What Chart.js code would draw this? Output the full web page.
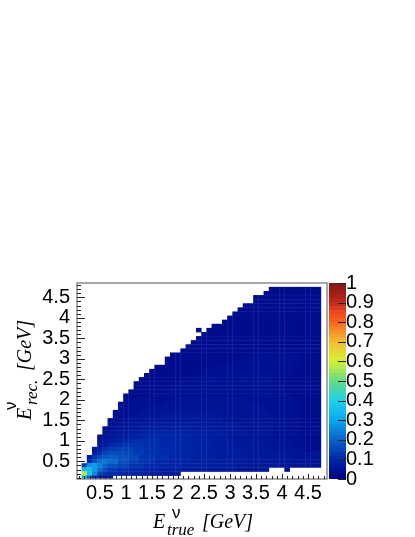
<!DOCTYPE html>
<html>
<head>
<meta charset="utf-8">
<title>E rec vs E true</title>
<script src="https://cdn.jsdelivr.net/npm/chart.js@4"></script>
<style>
  body { margin: 0; background: #fff; }
  canvas { position: absolute; top: 0; }
  #migration { left: 0; }
  #palette { left: 320px; }
</style>
</head>
<body>
<canvas id="migration" width="415" height="537"></canvas>
<canvas id="palette" width="95" height="537"></canvas>
<script>
// bins are 0.1 GeV wide on both axes
const xEdgeStart = 0.15;
const yEdgeStart = 0.05;
const binSize = 0.1;

const xTickValues = [0.5, 1, 1.5, 2, 2.5, 3, 3.5, 4, 4.5];
const yTickValues = [0.5, 1, 1.5, 2, 2.5, 3, 3.5, 4, 4.5];
const zTickValues = [0, 0.1, 0.2, 0.3, 0.4, 0.5, 0.6, 0.7, 0.8, 0.9, 1];

// bin content in hundredths, top row first, written as count,value pairs. 0 = empty bin
const binRows = [
  [36,0, 10,3],
  [35,0, 11,3],
  [33,0, 13,3],
  [33,0, 13,3],
  [31,0, 15,3],
  [30,0, 16,3],
  [29,0, 17,3],
  [28,0, 18,3],
  [27,0, 19,3],
  [25,0, 21,3],
  [22,0, 1,3, 1,0, 22,3],
  [23,0, 23,3],
  [22,0, 24,3],
  [21,0, 25,3],
  [20,0, 26,3],
  [19,0, 17,3, 6,4, 4,3],
  [17,0, 16,3, 9,4, 4,3],
  [16,0, 14,3, 12,4, 4,3],
  [16,0, 12,3, 14,4, 4,3],
  [14,0, 11,3, 16,4, 5,3],
  [13,0, 10,3, 18,4, 5,3],
  [12,0, 10,3, 18,4, 6,3],
  [11,0, 8,3, 20,4, 7,3],
  [10,0, 8,3, 21,4, 7,3],
  [10,0, 7,3, 22,4, 7,3],
  [9,0, 7,3, 23,4, 7,3],
  [8,0, 6,3, 26,4, 6,3],
  [8,0, 10,4, 14,5, 10,4, 4,3],
  [7,0, 9,4, 18,5, 8,4, 4,3],
  [7,0, 6,4, 22,5, 7,4, 4,3],
  [6,0, 5,4, 25,5, 6,4, 4,3],
  [6,0, 4,4, 5,5, 12,6, 10,5, 5,4, 4,3],
  [5,0, 3,4, 5,5, 14,6, 10,5, 5,4, 4,3],
  [5,0, 2,4, 3,5, 4,6, 9,7, 8,6, 6,5, 5,4, 4,3],
  [4,0, 2,4, 2,5, 3,6, 3,7, 7,8, 4,7, 5,6, 7,5, 5,4, 4,3],
  [4,0, 1,4, 2,5, 2,6, 2,7, 3,8, 6,9, 4,8, 4,7, 4,6, 5,5, 5,4, 4,3],
  [3,0, 1,4, 1,5, 2,6, 2,7, 2,8, 2,9, 5,10, 3,9, 3,8, 4,7, 4,6, 5,5, 5,4, 4,3],
  [3,0, 1,5, 1,6, 1,7, 2,8, 2,10, 5,11, 4,10, 3,9, 3,8, 4,7, 5,6, 6,5, 3,4, 3,3],
  [3,0, 1,6, 1,7, 1,9, 2,11, 4,12, 3,11, 3,10, 3,9, 4,8, 5,7, 5,6, 6,5, 2,4, 3,3],
  [2,0, 1,6, 1,8, 1,11, 2,13, 3,14, 3,12, 3,11, 3,10, 3,9, 4,8, 5,7, 6,6, 6,5, 3,3],
  [2,0, 1,7, 1,11, 1,14, 1,16, 2,16, 2,15, 2,13, 3,11, 3,10, 4,9, 4,8, 6,7, 7,6, 7,5],
  [1,0, 1,7, 1,12, 1,16, 1,18, 2,19, 2,17, 2,15, 3,12, 3,11, 4,9, 5,8, 6,7, 8,6, 6,5],
  [1,0, 1,10, 1,17, 1,21, 1,23, 2,21, 2,17, 2,14, 3,12, 3,10, 4,9, 5,8, 6,7, 8,6, 6,5],
  [1,12, 1,27, 1,28, 1,24, 1,20, 2,17, 2,14, 3,12, 3,10, 4,9, 5,8, 6,7, 8,6, 8,5],
  [1,34, 1,35, 1,28, 1,21, 1,16, 2,13, 2,11, 3,10, 3,9, 4,8, 5,7, 6,6, 6,5, 3,0, 1,4, 6,0],
  [1,58, 1,36, 1,25, 1,15, 1,12, 2,10, 3,9, 3,8, 3,7, 3,6, 27,0],
  [1,31, 1,20, 1,10, 1,7, 2,6, 40,0]
];

// palette
const paletteZ = [0, 0.1, 0.2, 0.3, 0.4, 0.5, 0.6, 0.7, 0.8, 0.85, 0.9, 1];
const paletteRgb = [
  [0, 0, 130], [0, 40, 170], [10, 100, 200], [10, 170, 240], [30, 210, 230], [100, 220, 130],
  [215, 240, 50], [240, 190, 50], [250, 100, 30], [240, 70, 30], [190, 40, 30], [130, 20, 20]
];

function zColor(z) {
  let i = 0;
  while (i < paletteZ.length - 2 && z > paletteZ[i + 1]) i++;
  const f = (z - paletteZ[i]) / (paletteZ[i + 1] - paletteZ[i]);
  const c = paletteRgb[i].map((v, k) => Math.round(v + (paletteRgb[i + 1][k] - v) * f));
  return `rgb(${c[0]},${c[1]},${c[2]})`;
}

function buildCells() {
  const cells = [];
  binRows.forEach((row, r) => {
    const lo = yEdgeStart + binSize * (binRows.length - 1 - r);
    let col = 0;
    for (let i = 0; i < row.length; i += 2) {
      for (let n = 0; n < row[i]; n++, col++) {
        if (row[i + 1] === 0) continue;
        cells.push({ x: xEdgeStart + binSize * (col + 0.5), y: [lo, lo + binSize], z: row[i + 1] / 100 });
      }
    }
  });
  return cells;
}

const labelFont = { family: 'Liberation Sans', size: 20 };
const frameColor = '#8a8a8a';
const tickColor = '#222';

// ROOT style frame with ticks pointing into the plot
const frameTicks = {
  id: 'frameTicks',
  afterDatasetsDraw(chart) {
    const { ctx, chartArea: a, scales } = chart;
    ctx.save();
    ctx.strokeStyle = frameColor;
    ctx.lineWidth = 1.5;
    ctx.strokeRect(a.left, a.top, a.right - a.left, a.bottom - a.top);
    ctx.strokeStyle = tickColor;
    ctx.lineWidth = 1;
    for (let t = 1; t < 49; t++) {
      const v = t / 10;
      const major = t % 5 === 0;
      const px = Math.round(scales.x.getPixelForValue(v)) + 0.5;
      if (v >= scales.x.min && v <= scales.x.max) {
        ctx.beginPath();
        ctx.moveTo(px, a.bottom);
        ctx.lineTo(px, a.bottom - (major ? 5 : 3));
        ctx.stroke();
      }
      const py = Math.round(scales.y.getPixelForValue(v)) + 0.5;
      if (v >= scales.y.min && v <= scales.y.max) {
        ctx.beginPath();
        ctx.moveTo(a.left, py);
        ctx.lineTo(a.left + (major ? 8 : 4), py);
        ctx.stroke();
      }
    }
    ctx.restore();
  }
};

// axis titles have sub and superscripts, so they are set piece by piece
const xTitleParts = [
  { text: 'E', font: 'italic 20px "Liberation Serif"', dx: 0, dy: 0 },
  { text: 'ν', font: '17px "Liberation Sans"', dx: 19, dy: -10 },
  { text: 'true', font: 'italic 17px "Liberation Serif"', dx: 14, dy: 7 },
  { text: '[GeV]', font: 'italic 20px "Liberation Serif"', dx: 49, dy: 0 }
];
const yTitleParts = [
  { text: 'E', font: 'italic 20px "Liberation Serif"', dx: 0, dy: 0 },
  { text: 'ν', font: '17px "Liberation Sans"', dx: 10, dy: -15 },
  { text: 'rec.', font: 'italic 17px "Liberation Serif"', dx: 15, dy: 6 },
  { text: '[GeV]', font: 'italic 20px "Liberation Serif"', dx: 49, dy: 0 }
];

const axisTitles = {
  id: 'axisTitles',
  afterDraw(chart) {
    const { ctx } = chart;
    const put = (parts, x, y, angle) => {
      ctx.save();
      ctx.translate(x, y);
      ctx.rotate(angle);
      ctx.fillStyle = '#000';
      ctx.textBaseline = 'alphabetic';
      parts.forEach((p) => {
        ctx.font = p.font;
        ctx.fillText(p.text, p.dx, p.dy);
      });
      ctx.restore();
    };
    put(xTitleParts, 153, 528, 0);
    put(yTitleParts, 31, 420, -Math.PI / 2);
  }
};

new Chart(document.getElementById('migration'), {
  type: 'bar',
  data: {
    datasets: [{
      data: buildCells(),
      backgroundColor: (c) => zColor(c.raw.z),
      barPercentage: 1,
      categoryPercentage: 1,
      inflateAmount: 0.2
    }]
  },
  options: {
    responsive: false,
    animation: false,
    layout: { padding: { left: 0, right: 88, top: 283, bottom: 0 } },
    plugins: { legend: { display: false }, tooltip: { enabled: false } },
    scales: {
      x: {
        type: 'linear',
        offset: false,
        min: 0.058,
        max: 4.866,
        grid: { display: false, drawTicks: false },
        border: { display: false },
        ticks: { color: '#000', font: labelFont, padding: 2, maxRotation: 0, autoSkip: false, callback: (v) => String(v) },
        afterBuildTicks: (s) => { s.ticks = xTickValues.map((value) => ({ value })); },
        afterFit: (s) => { s.height = 58; }
      },
      y: {
        min: 0.07,
        max: 4.849,
        grid: { display: false, drawTicks: false },
        border: { display: false },
        ticks: { color: '#000', font: labelFont, padding: 7, autoSkip: false, callback: (v) => String(v) },
        afterBuildTicks: (s) => { s.ticks = yTickValues.map((value) => ({ value })); },
        afterFit: (s) => { s.width = 77; }
      }
    }
  },
  plugins: [frameTicks, axisTitles]
});

// colour bar, 50 contour levels like the histogram
const levelCount = 50;
const levelDatasets = [];
for (let i = 0; i < levelCount; i++) {
  levelDatasets.push({
    data: [[i / levelCount, (i + 1) / levelCount]],
    backgroundColor: zColor((i + 0.5) / levelCount),
    barPercentage: 1,
    categoryPercentage: 1,
    grouped: false
  });
}

const paletteTicks = {
  id: 'paletteTicks',
  afterDatasetsDraw(chart) {
    const { ctx, chartArea: a, scales } = chart;
    ctx.save();
    ctx.strokeStyle = tickColor;
    ctx.lineWidth = 1;
    zTickValues.forEach((v) => {
      const py = Math.round(scales.y.getPixelForValue(v)) + 0.5;
      ctx.beginPath();
      ctx.moveTo(a.right - 8, py);
      ctx.lineTo(a.right, py);
      ctx.stroke();
    });
    ctx.restore();
  }
};

new Chart(document.getElementById('palette'), {
  type: 'bar',
  data: { labels: ['z'], datasets: levelDatasets },
  options: {
    responsive: false,
    animation: false,
    layout: { padding: { left: 9, right: 0, top: 283, bottom: 58 } },
    plugins: { legend: { display: false }, tooltip: { enabled: false } },
    scales: {
      x: { display: false },
      y: {
        position: 'right',
        min: 0,
        max: 1,
        grid: { display: false, drawTicks: false },
        border: { display: false },
        ticks: { color: '#000', font: labelFont, padding: 0, autoSkip: false, callback: (v) => String(v) },
        afterBuildTicks: (s) => { s.ticks = zTickValues.map((value) => ({ value })); },
        afterFit: (s) => { s.width = 69; }
      }
    }
  },
  plugins: [paletteTicks]
});
</script>
</body>
</html>
